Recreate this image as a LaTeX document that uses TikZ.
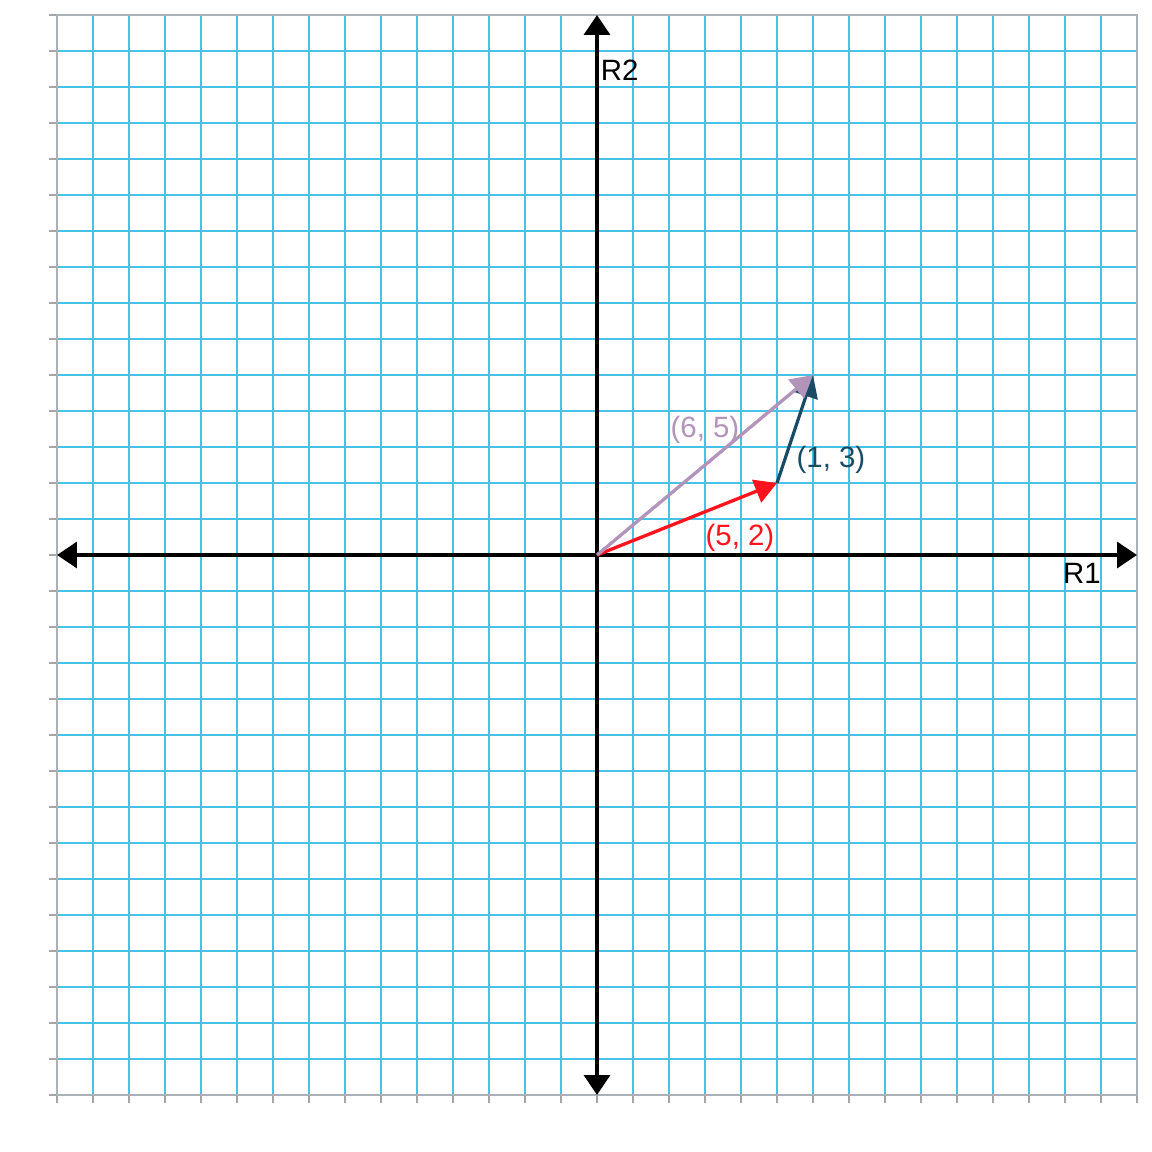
\documentclass[tikz,border=0pt]{standalone}
\usepackage{fontspec}
\setmainfont{Liberation Sans}
\usetikzlibrary{arrows.meta}
\definecolor{gridblue}{RGB}{70,195,228}
\definecolor{bordergray}{RGB}{168,178,183}
\definecolor{tickgray}{RGB}{165,165,165}
\definecolor{vred}{RGB}{255,20,30}
\definecolor{vteal}{RGB}{25,75,100}
\definecolor{vpurple}{RGB}{178,148,186}
\tikzset{
  gridline/.style={gridblue, line width=1.6bp},
  border/.style={bordergray, line width=2.4bp},
  tickmark/.style={tickgray, line width=2bp},
  axisline/.style={black, line width=3.4bp, {Triangle[length=20bp,width=26bp]}-{Triangle[length=20bp,width=26bp]}},
  vec/.style={line width=3.3bp, -{Triangle[length=22bp,width=24bp]}},
  lab/.style={font=\fontsize{29.5}{35}\selectfont, inner sep=0pt}
}
\begin{document}
\begin{tikzpicture}[x=36bp,y=36bp]
\useasboundingbox[fill=white] (-16.5833,-16.5833) rectangle (15.4167,15.4167);
% grid
\foreach \i in {-14,...,14} {
  \draw[gridline] (\i,-15) -- (\i,15);
  \draw[gridline] (-15,\i) -- (15,\i);
}
% ticks
\foreach \i in {-15,...,15} {
  \draw[tickmark] (-15.23,\i) -- (-15,\i);
  \draw[tickmark] (\i,-15) -- (\i,-15.23);
}
\draw[border] (-15,-15) rectangle (15,15);
% axes
\coordinate (L) at (-15,0);
\coordinate (R) at (15,0);
\coordinate (T) at (0,15);
\coordinate (D) at (0,-15);
\draw[axisline] (L) -- (R);
\draw[axisline] (D) -- (T);
\node[lab, anchor=west] (r2) at (0.1,13.47) {R2};
\node[lab] (r1) at (13.47,-0.5) {R1};
% vectors
\coordinate (O) at (0,0);
\coordinate (A) at (5,2);
\coordinate (B) at (6,5);
\draw[vec, vred] (O) -- (A);
\draw[vec, vteal] (A) -- (B);
\draw[vec, vpurple] (O) -- (B);
\node[lab, text=vpurple] (l65) at (3.0,3.47) {(6, 5)};
\node[lab, text=vteal] (l13) at (6.5,2.64) {(1, 3)};
\node[lab, text=vred] (l52) at (3.97,0.47) {(5, 2)};
\end{tikzpicture}
\end{document}
